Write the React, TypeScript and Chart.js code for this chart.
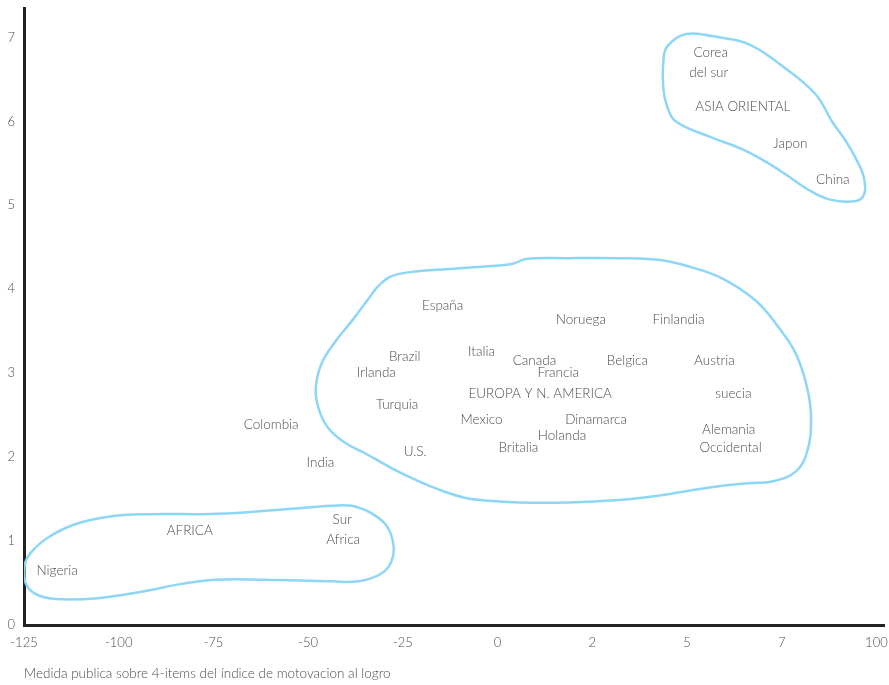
import React, { useEffect, useRef } from "react";
import { Chart, registerables } from "chart.js";

Chart.register(...registerables);

const xTickLabels = ["-125", "-100", "-75", "-50", "-25", "0", "2", "5", "7", "100"];
const yTickValues = [0, 1, 2, 3, 4, 5, 6, 7];
const xAxisTitle = "Medida publica sobre 4-items del índice de motovacion al logro";

// Country / region labels (x in tick-index units, y in score units)
const pointLabels = [
  "Corea", "del sur", "ASIA ORIENTAL", "Japon", "China",
  "España", "Noruega", "Finlandia", "Brazil", "Italia", "Canada", "Belgica", "Austria",
  "Irlanda", "Francia", "EUROPA Y N. AMERICA", "suecia", "Turquia", "Colombia", "Mexico",
  "Dinamarca", "Alemania", "Holanda", "Occidental", "Britalia", "U.S.", "India",
  "Sur", "Africa", "AFRICA", "Nigeria",
];
const pointX = [
  7.25, 7.23, 7.59, 8.09, 8.54,
  4.42, 5.88, 6.91, 4.02, 4.83, 5.39, 6.37, 7.29,
  3.72, 5.64, 5.45, 7.49, 3.94, 2.61, 4.83,
  6.04, 7.44, 5.68, 7.46, 5.22, 4.13, 3.13,
  3.36, 3.37, 1.75, 0.35,
];
const pointY = [
  6.82, 6.58, 6.18, 5.73, 5.30,
  3.81, 3.64, 3.64, 3.20, 3.26, 3.15, 3.15, 3.15,
  3.01, 3.01, 2.76, 2.76, 2.63, 2.39, 2.45,
  2.45, 2.33, 2.26, 2.11, 2.11, 2.06, 1.93,
  1.25, 1.02, 1.13, 0.65,
];

// Region outlines (x in tick-index units, y in score units)
const asiaX = [7.30, 7.65, 8.04, 8.36, 8.53, 8.68, 8.80, 8.87, 8.87, 8.78, 8.50, 8.26, 8.04, 7.83, 7.58, 7.23, 6.88, 6.79, 6.75, 6.75, 6.79, 6.99, 7.30];
const asiaY = [7.01, 6.92, 6.63, 6.32, 6.00, 5.76, 5.52, 5.32, 5.13, 5.05, 5.07, 5.20, 5.37, 5.52, 5.67, 5.82, 6.00, 6.18, 6.39, 6.71, 6.89, 7.04, 7.01];

const europeX = [4.59, 5.15, 5.30, 5.75, 6.28, 6.70, 7.02, 7.37, 7.73, 7.97, 8.15, 8.27, 8.31, 8.27, 8.15, 7.90, 7.65, 7.37, 7.02, 6.70, 6.28, 5.75, 5.22, 4.91, 4.64, 4.41, 4.17, 3.88, 3.61, 3.39, 3.21, 3.11, 3.08, 3.14, 3.29, 3.46, 3.64, 3.77, 3.95, 4.59];
const europeY = [4.25, 4.30, 4.36, 4.37, 4.37, 4.35, 4.27, 4.13, 3.86, 3.54, 3.23, 2.82, 2.46, 2.07, 1.83, 1.71, 1.69, 1.66, 1.60, 1.54, 1.49, 1.46, 1.46, 1.48, 1.52, 1.60, 1.71, 1.87, 2.04, 2.17, 2.35, 2.58, 2.82, 3.11, 3.38, 3.62, 3.89, 4.07, 4.18, 4.25];

const africaX = [1.84, 2.19, 2.55, 2.90, 3.25, 3.46, 3.67, 3.83, 3.90, 3.88, 3.77, 3.53, 3.25, 2.55, 2.02, 1.66, 1.31, 0.78, 0.33, 0.12, 0.01, 0.01, 0.07, 0.25, 0.54, 0.89, 1.31, 1.84];
const africaY = [1.32, 1.33, 1.36, 1.39, 1.42, 1.42, 1.33, 1.18, 0.96, 0.76, 0.61, 0.52, 0.52, 0.54, 0.54, 0.49, 0.41, 0.32, 0.31, 0.37, 0.52, 0.73, 0.86, 1.04, 1.20, 1.29, 1.32, 1.32];

const outlineColor = "rgb(142, 214, 245)";
const textColor = "#4d4d4d";
const fontFamily = "Lato, 'Open Sans', sans-serif";

function toPoints(xs: number[], ys: number[]) {
  return xs.map((x, i) => ({ x, y: ys[i] }));
}

const labelPlugin = {
  id: "pointLabels",
  afterDatasetsDraw(chart: any) {
    const { ctx, scales } = chart;
    ctx.save();
    ctx.fillStyle = textColor;
    ctx.font = `300 13.5px ${fontFamily}`;
    ctx.textAlign = "center";
    ctx.textBaseline = "middle";
    pointLabels.forEach((label, i) => {
      const px = scales.x.getPixelForValue(pointX[i]);
      const py = scales.y.getPixelForValue(pointY[i]);
      ctx.fillText(label, px, py);
    });
    ctx.restore();
  },
};

function clearPadding(s: any) {
  s.paddingTop = 0;
  s.paddingBottom = 0;
  s.paddingLeft = 0;
  s.paddingRight = 0;
}

export default function App() {
  const canvasRef = useRef<HTMLCanvasElement | null>(null);

  useEffect(() => {
    document.body.style.margin = "0";
    const canvas = canvasRef.current;
    if (!canvas) return;
    const outline = (xs: number[], ys: number[]) => ({
      data: toPoints(xs, ys),
      showLine: true,
      borderColor: outlineColor,
      borderWidth: 2.5,
      pointRadius: 0,
      tension: 0.4,
      fill: false,
    });
    const chart = new Chart(canvas, {
      type: "scatter",
      data: {
        datasets: [outline(asiaX, asiaY), outline(europeX, europeY), outline(africaX, africaY)],
      },
      options: {
        animation: false,
        responsive: false,
        devicePixelRatio: 1,
        layout: { padding: { top: 8, right: 5, left: 0, bottom: 0 } },
        plugins: { legend: { display: false }, tooltip: { enabled: false } },
        scales: {
          x: {
            type: "linear",
            min: 0,
            max: 9.08,
            afterFit: (s: any) => { s.height = 60; clearPadding(s); },
            afterBuildTicks: (s: any) => {
              s.ticks = xTickLabels.map((_, i) => ({ value: i }));
            },
            ticks: {
              autoSkip: false,
              maxRotation: 0,
              padding: 10,
              color: textColor,
              font: { family: fontFamily, size: 13, weight: "300" as any },
              callback: (v: any) => xTickLabels[Math.round(Number(v))] ?? "",
            },
            grid: { display: true, drawOnChartArea: false, drawTicks: false },
            border: { display: true, color: "#222222", width: 3 },
            title: {
              display: true,
              text: xAxisTitle,
              align: "start",
              color: textColor,
              font: { family: fontFamily, size: 13.5, weight: "300" as any },
              padding: { top: 0, bottom: 3 },
            },
          },
          y: {
            type: "linear",
            min: 0,
            max: 7.35,
            afterFit: (s: any) => { s.width = 24; clearPadding(s); },
            afterBuildTicks: (s: any) => {
              s.ticks = yTickValues.map((v) => ({ value: v }));
            },
            ticks: {
              padding: 9,
              color: textColor,
              font: { family: fontFamily, size: 13, weight: "300" as any },
            },
            grid: { display: true, drawOnChartArea: false, drawTicks: false },
            border: { display: true, color: "#222222", width: 3 },
          },
        },
      },
      plugins: [labelPlugin],
    });
    return () => chart.destroy();
  }, []);

  return (
    <div style={{ position: "absolute", left: 0, top: 0, width: 889, height: 685 }}>
      <canvas ref={canvasRef} width={889} height={685} style={{ width: 889, height: 685 }} />
    </div>
  );
}
